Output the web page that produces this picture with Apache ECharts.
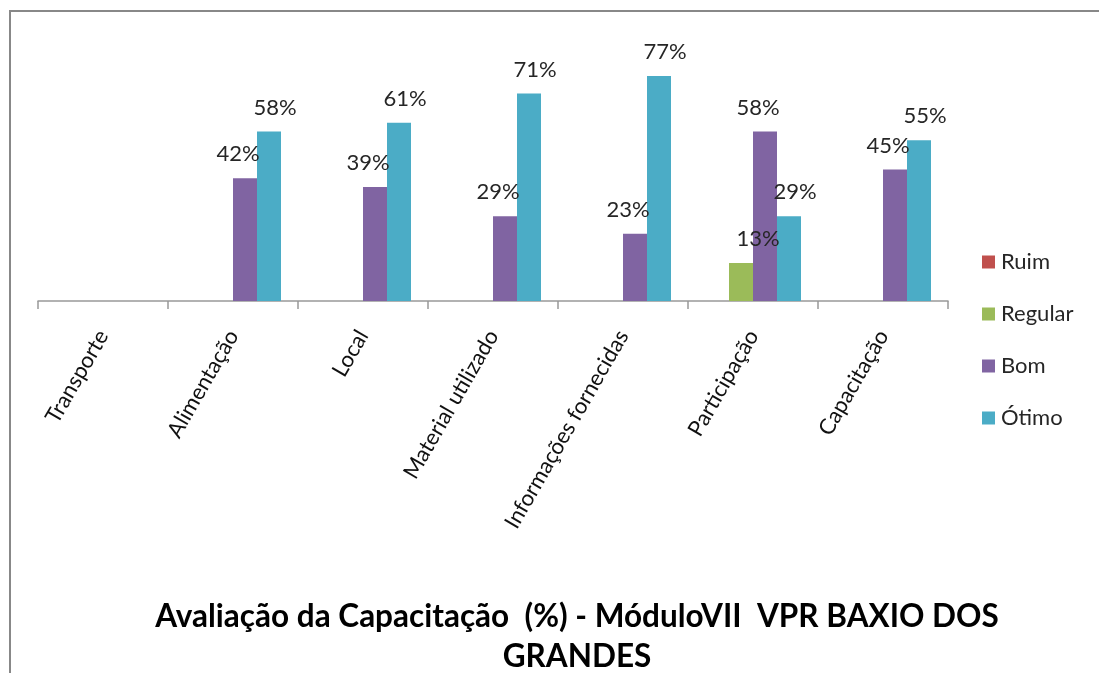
<!DOCTYPE html>
<html>
<head>
<meta charset="utf-8">
<script src="https://cdn.jsdelivr.net/npm/echarts@6/dist/echarts.min.js"></script>
<style>
  html, body { margin: 0; padding: 0; background: #fff; }
  #main { width: 1099px; height: 673px; }
</style>
</head>
<body>
<div id="main"></div>
<script>
// categories and series
const categories = ['Transporte', 'Alimentação', 'Local', 'Material utilizado',
  'Informações fornecidas', 'Participação', 'Capacitação'];
const ruim = [null, null, null, null, null, null, null];
const regular = [null, null, null, null, null, 13, null];
const bom = [null, 42, 39, 29, 23, 58, 45];
const otimo = [null, 58, 61, 71, 77, 29, 55];

const FONT = 'Lato';

function barSeries(name, data, color, offsetX) {
  return {
    name: name,
    type: 'bar',
    data: data,
    barWidth: 24,
    barGap: '0%',
    itemStyle: { color: color },
    label: {
      show: true,
      position: 'top',
      distance: 13,
      offset: [offsetX, 0],
      fontFamily: FONT,
      fontSize: 22,
      color: '#262626',
      formatter: (p) => (p.value == null ? '' : p.value + '%')
    }
  };
}

const chart = echarts.init(document.getElementById('main'));
chart.setOption({
  animation: false,
  graphic: [{
    type: 'rect',
    shape: { x: 10, y: 11, width: 1200, height: 800 },
    style: { fill: 'none', stroke: '#888', lineWidth: 2 },
    silent: true
  }],
  title: {
    text: 'Avaliação da Capacitação  (%) - MóduloVII  VPR BAXIO DOS\nGRANDES',
    left: 572,
    textAlign: 'center',
    top: 592,
    textStyle: {
      fontFamily: FONT,
      fontSize: 31.5,
      fontWeight: 'bold',
      color: '#000',
      lineHeight: 40
    }
  },
  legend: {
    orient: 'vertical',
    left: 977,
    top: 246,
    itemWidth: 13,
    itemHeight: 13,
    itemGap: 30,
    icon: 'rect',
    textStyle: { fontFamily: FONT, fontSize: 22, color: '#262626', padding: [0, 0, 0, 1] },
    data: ['Ruim', 'Regular', 'Bom', 'Ótimo']
  },
  grid: { left: 38, right: 151, top: 38, bottom: 372 },
  xAxis: {
    type: 'category',
    data: categories,
    axisLine: { lineStyle: { color: '#999', width: 1.5 } },
    axisTick: { show: true, alignWithLabel: false, length: 8, lineStyle: { color: '#999', width: 1.5 } },
    axisLabel: {
      rotate: 60,
      margin: 31,
      interval: 0,
      fontFamily: FONT,
      fontSize: 22,
      color: '#111'
    }
  },
  yAxis: {
    type: 'value',
    min: 0,
    max: 90,
    show: false,
    splitLine: { show: false }
  },
  series: [
    barSeries('Ruim', ruim, '#C0504D', 0),
    barSeries('Regular', regular, '#9BBB59', 17),
    barSeries('Bom', bom, '#8064A2', -7),
    barSeries('Ótimo', otimo, '#4BACC6', 6)
  ]
});
</script>
</body>
</html>
